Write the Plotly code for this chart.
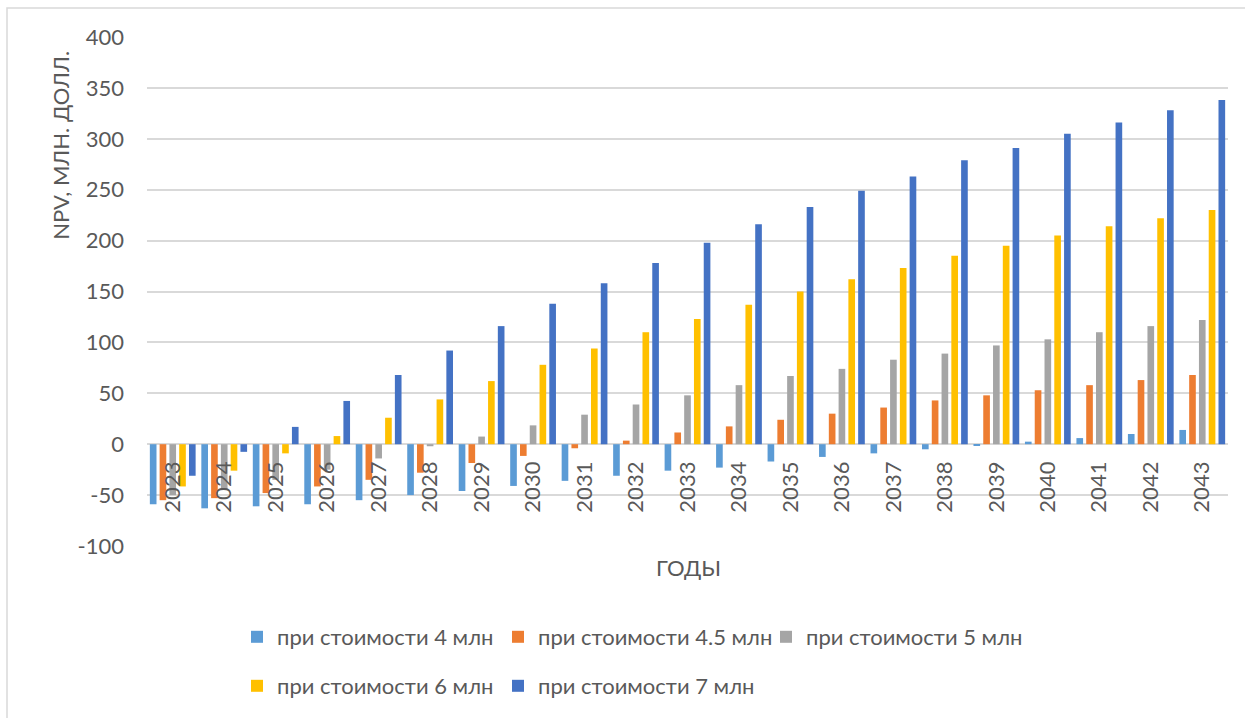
import plotly.graph_objects as go

years = [str(y) for y in range(2023, 2044)]

series_names = [
    "при стоимости 4 млн",
    "при стоимости 4.5 млн",
    "при стоимости 5 млн",
    "при стоимости 6 млн",
    "при стоимости 7 млн",
]

npv_4 = [-59, -63, -61, -59, -55, -50, -46, -41, -36, -31, -26, -23, -17, -12.5, -9, -5,
         -1, 2.5, 6, 10, 14]
npv_4_5 = [-55, -53, -48, -41.5, -35, -28, -18.5, -11.5, -4, 3.5, 11.5, 17.5, 24, 30, 36, 43,
           48, 53, 58, 63, 68]
npv_5 = [-50, -44, -35, -25, -14, -2, 7.5, 18.5, 29, 39, 48, 58, 67, 74, 83, 89,
         97, 103, 110, 116, 122]
npv_6 = [-41.5, -26, -9, 8, 26, 44, 62, 78, 94, 110, 123, 137, 150, 162, 173, 185,
         195, 205, 214, 222, 230]
npv_7 = [-31, -7.5, 17, 42.5, 68, 92, 116, 138, 158, 178, 198, 216, 233, 249, 263, 279,
         291, 305, 316, 328, 338]

series_values = [npv_4, npv_4_5, npv_5, npv_6, npv_7]
colors = ["#5B9BD5", "#ED7D31", "#A5A5A5", "#FFC000", "#4472C4"]

y_ticks = list(range(-100, 401, 50))
y_tick_labels = [str(v) for v in y_ticks]  # plain hyphen for negatives

FONT = "Lato"
FS = 22
TEXT_GRAY = "#595959"
GRID = "#D9D9D9"

W, H = 1245, 718
L, R, T, B = 147, 17, 37, 171
pw, ph = W - L - R, H - T - B


def px(xp):
    return (xp - L) / pw


def py(yp):
    return (H - B - yp) / ph


# one legend box per entry, laid out in two rows below the axis title
legend_slots = [(237, 637), (498, 637), (766, 637), (237, 686), (498, 686)]
legend_ids = ["legend"] + [f"legend{i}" for i in range(2, len(series_names) + 1)]

fig = go.Figure()
for name, vals, col, lg in zip(series_names, series_values, colors, legend_ids):
    fig.add_trace(go.Bar(
        x=years, y=vals, name=name, marker=dict(color=col, line=dict(width=0)),
        legend=lg,
    ))

legend_layout = {}
for lg, (lx, ly) in zip(legend_ids, legend_slots):
    legend_layout[lg] = dict(
        x=px(lx), y=py(ly), orientation="h", xanchor="left", yanchor="middle",
        font=dict(family=FONT, size=FS, color=TEXT_GRAY), itemwidth=30,
        bgcolor="rgba(0,0,0,0)",
    )

fig.update_layout(
    width=W, height=H,
    margin=dict(l=L, r=R, t=T, b=B, pad=0),
    paper_bgcolor="white", plot_bgcolor="white",
    barmode="group", bargap=0.05, bargroupgap=0.32,
    font=dict(family=FONT, size=FS, color=TEXT_GRAY),
    showlegend=True,
    xaxis=dict(
        type="category", anchor="free", position=py(445),
        showgrid=False, showline=False, zeroline=False, ticks="",
        tickangle=-90, ticklabelstandoff=12,
        tickfont=dict(family=FONT, size=FS, color=TEXT_GRAY),
    ),
    yaxis=dict(
        range=[-100, 400], tickvals=y_ticks, ticktext=y_tick_labels, ticks="",
        showgrid=True, gridcolor=GRID, gridwidth=1.6,
        zeroline=True, zerolinecolor=GRID, zerolinewidth=1.6,
        showline=False, ticklabelstandoff=22,
        tickfont=dict(family=FONT, size=FS, color=TEXT_GRAY),
    ),
    annotations=[
        dict(text="NPV, МЛН. ДОЛЛ.", xref="paper", yref="paper", x=px(61), y=py(146),
             xanchor="center", yanchor="middle", textangle=-90, showarrow=False,
             font=dict(family=FONT, size=FS, color=TEXT_GRAY)),
        dict(text="ГОДЫ", xref="paper", yref="paper", x=px(688), y=py(569),
             xanchor="center", yanchor="middle", showarrow=False,
             font=dict(family=FONT, size=FS, color=TEXT_GRAY)),
    ],
    shapes=[
        dict(type="rect", xref="paper", yref="paper", x0=px(7), x1=px(1260), y0=py(8), y1=py(740),
             line=dict(color="#D9D9D9", width=1.5), fillcolor="rgba(0,0,0,0)", layer="below"),
    ],
    **legend_layout,
)

fig.write_html("out.html")
